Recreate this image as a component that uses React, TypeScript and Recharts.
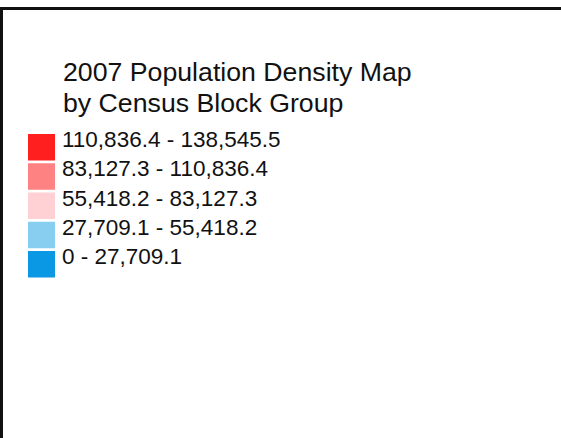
import { BarChart, Bar, XAxis, YAxis, Cell, LabelList } from "recharts";

// Legend of the 2007 population density map (persons per sq. mile)
const titleLines = ["2007 Population Density Map", "by Census Block Group"];

const densityRanges = [
  "110,836.4 - 138,545.5",
  "83,127.3 - 110,836.4",
  "55,418.2 - 83,127.3",
  "27,709.1 - 55,418.2",
  "0 - 27,709.1",
];

const classColors = ["#ff1f1f", "#ff8282", "#ffd1d5", "#88cef0", "#0a97e4"];

// every legend swatch has the same width
const swatchUnits = [1, 1, 1, 1, 1];

const FONT = "'Liberation Sans', Arial, Helvetica, sans-serif";

const W = 561;
const H = 438;

export default function App() {
  const legendData = densityRanges.map((range, i) => ({
    range,
    swatch: swatchUnits[i],
  }));

  const renderRangeLabel = (props: any) => {
    const { x, y, width, value } = props;
    return (
      <text
        x={Number(x) + Number(width) + 7}
        y={Number(y) + 13}
        fontFamily={FONT}
        fontSize={22.5}
        fill="#111"
      >
        {value}
      </text>
    );
  };

  return (
    <div
      style={{
        position: "absolute",
        left: 0,
        top: 0,
        width: W,
        height: H,
        background: "#fff",
        overflow: "hidden",
      }}
    >
      {/* frame lines */}
      <div style={{ position: "absolute", left: 0, top: 7, width: W, height: 3, background: "#111" }} />
      <div style={{ position: "absolute", left: 0, top: 7, width: 3, height: H - 7, background: "#111" }} />

      <div
        style={{
          position: "absolute",
          left: 63,
          top: 57,
          fontFamily: FONT,
          fontSize: 26.7,
          lineHeight: "31px",
          color: "#111",
          whiteSpace: "nowrap",
        }}
      >
        {titleLines.map((t) => (
          <div key={t}>{t}</div>
        ))}
      </div>

      <div style={{ position: "absolute", left: 0, top: 0 }}>
        <BarChart
          width={W}
          height={H}
          data={legendData}
          layout="vertical"
          margin={{ top: 133, right: W - 28 - 27, bottom: H - 133 - 146.25, left: 28 }}
          barCategoryGap={0}
        >
          <XAxis type="number" domain={[0, 1]} hide />
          <YAxis type="category" dataKey="range" hide />
          <Bar dataKey="swatch" barSize={26.5} isAnimationActive={false}>
            {legendData.map((d, i) => (
              <Cell key={d.range} fill={classColors[i]} />
            ))}
            <LabelList dataKey="range" content={renderRangeLabel} />
          </Bar>
        </BarChart>
      </div>
    </div>
  );
}
